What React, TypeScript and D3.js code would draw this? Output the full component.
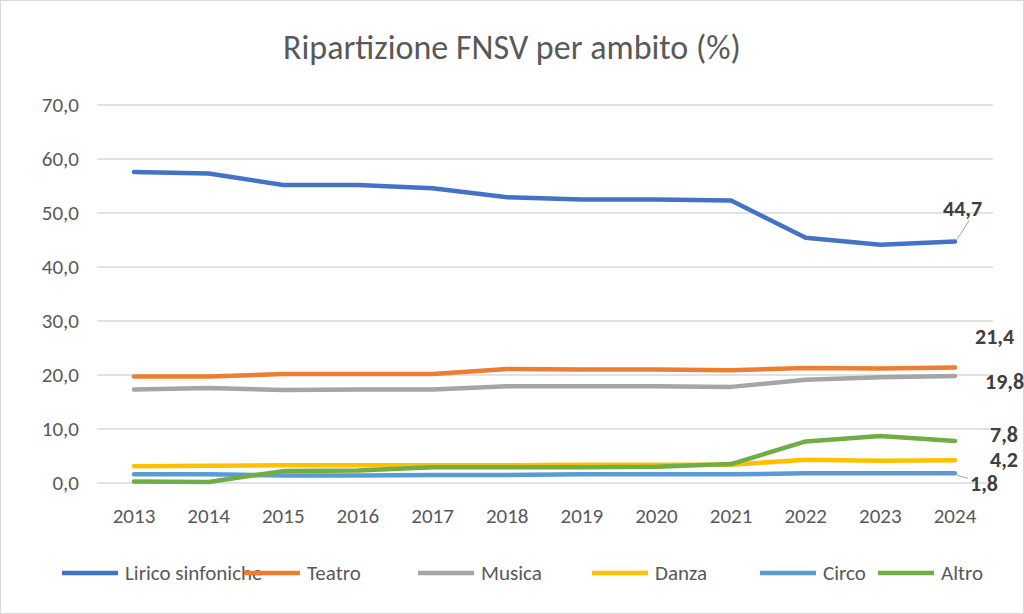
import React from "react";
import * as d3 from "d3";

const years = ["2013","2014","2015","2016","2017","2018","2019","2020","2021","2022","2023","2024"];
const lirico = [57.6, 57.3, 55.2, 55.2, 54.6, 52.9, 52.5, 52.5, 52.3, 45.4, 44.1, 44.7];
const teatro = [19.7, 19.7, 20.2, 20.2, 20.2, 21.1, 21.0, 21.0, 20.9, 21.3, 21.2, 21.4];
const musica = [17.3, 17.6, 17.2, 17.3, 17.3, 17.9, 17.9, 17.9, 17.8, 19.1, 19.6, 19.8];
const danza = [3.1, 3.2, 3.3, 3.3, 3.3, 3.3, 3.4, 3.4, 3.4, 4.3, 4.1, 4.2];
const circo = [1.6, 1.6, 1.4, 1.4, 1.5, 1.5, 1.6, 1.6, 1.6, 1.8, 1.8, 1.8];
const altro = [0.3, 0.2, 2.2, 2.3, 2.9, 2.9, 2.9, 3.0, 3.5, 7.7, 8.7, 7.8];
const yTicks = [0, 10, 20, 30, 40, 50, 60, 70];

const series = [
  { name: "Lirico sinfoniche", values: lirico, color: "#4472C4" },
  { name: "Teatro", values: teatro, color: "#ED7D31" },
  { name: "Musica", values: musica, color: "#A5A5A5" },
  { name: "Danza", values: danza, color: "#FFC000" },
  { name: "Circo", values: circo, color: "#5B9BD5" },
  { name: "Altro", values: altro, color: "#70AD47" },
];

const endLabels = [
  { s: 0, dx: -12, dy: -33, leader: true },
  { s: 1, dx: 20, dy: -30, leader: false },
  { s: 2, dx: 30, dy: 6, leader: false },
  { s: 5, dx: 35, dy: -6, leader: false },
  { s: 3, dx: 35, dy: 0, leader: false },
  { s: 4, dx: 15, dy: 11, leader: true },
];

const fmt = (v: number) => v.toFixed(1).replace(".", ",");

export default function App() {
  const W = 1024, H = 614;
  const x = d3.scalePoint().domain(years).range([134, 955]);
  const y = d3.scaleLinear().domain([0, 70]).range([483, 105]);
  const line = d3.line<number>().x((_, i) => x(years[i])!).y((d) => y(d));
  const font = "Calibri, Carlito, 'Liberation Sans', Arial, sans-serif";
  const legendX = [62, 244, 418, 592, 760, 878];
  return (
    <svg width={W} height={H} style={{ position: "absolute", left: 0, top: 0 }} fontFamily={font}>
      <rect x={0.5} y={0.5} width={W - 1} height={H - 1} fill="#fff" stroke="#d9d9d9" />
      <text x={512} y={59} textAnchor="middle" fontSize={34} fill="#595959">Ripartizione FNSV per ambito (%)</text>
      {yTicks.map((t) => (
        <g key={t}>
          <line x1={97} x2={993} y1={y(t)} y2={y(t)} stroke="#d9d9d9" strokeWidth={1.3} />
          <text x={79} y={y(t) + 7} textAnchor="end" fontSize={21} fill="#595959">{fmt(t)}</text>
        </g>
      ))}
      {years.map((yr) => (
        <text key={yr} x={x(yr)} y={523} textAnchor="middle" fontSize={21} fill="#595959">{yr}</text>
      ))}
      {series.map((s) => (
        <path key={s.name} d={line(s.values)!} fill="none" stroke={s.color} strokeWidth={4.5} strokeLinejoin="round" strokeLinecap="round" />
      ))}
      {endLabels.map((l) => {
        const v = series[l.s].values[11];
        const px = x("2024")!, py = y(v);
        return (
          <g key={l.s}>
            {l.leader && (l.dy < 0
              ? <line x1={px + 2} y1={py - 2} x2={px + 14} y2={py + l.dy + 12} stroke="#a6a6a6" />
              : <line x1={px + 2} y1={py + 2} x2={px + l.dx - 2} y2={py + l.dy - 6} stroke="#a6a6a6" />)}
            <text x={px + l.dx} y={py + l.dy + 7} fontSize={22} fontWeight="bold" fill="#404040">{fmt(v)}</text>
          </g>
        );
      })}
      {series.map((s, i) => (
        <g key={s.name}>
          <line x1={legendX[i]} x2={legendX[i] + 56} y1={573} y2={573} stroke={s.color} strokeWidth={4.5} />
          <text x={legendX[i] + 63} y={580} fontSize={21} fill="#595959">{s.name}</text>
        </g>
      ))}
    </svg>
  );
}
